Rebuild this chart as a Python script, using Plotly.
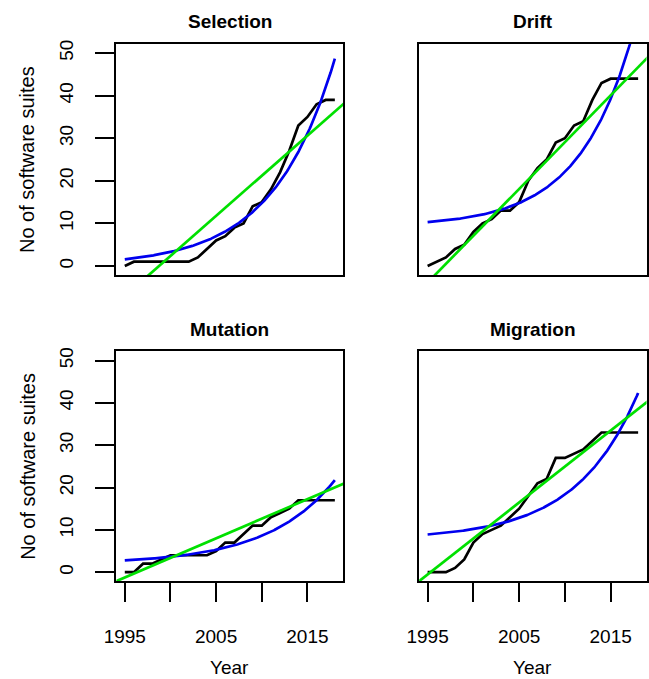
import numpy as np
import plotly.graph_objects as go

# Yearly counts of software suites per evolutionary force
years = list(range(1995, 2019))
selection = [0, 1, 1, 1, 1, 1, 1, 1, 2, 4, 6, 7, 9, 10, 14, 15, 18, 22, 27, 33, 35, 38, 39, 39]
drift = [0, 1, 2, 4, 5, 8, 10, 11, 13, 13, 15, 20, 23, 25, 29, 30, 33, 34, 39, 43, 44, 44, 44, 44]
mutation = [0, 0, 2, 2, 3, 4, 4, 4, 4, 4, 5, 7, 7, 9, 11, 11, 13, 14, 15, 17, 17, 17, 17, 17]
migration = [0, 0, 0, 1, 3, 7, 9, 10, 11, 13, 15, 18, 21, 22, 27, 27, 28, 29, 31, 33, 33, 33, 33, 33]

panel_titles = ["Selection", "Drift", "Mutation", "Migration"]
panel_series = [selection, drift, mutation, migration]

# Linear trend: value at 1995 and slope per year
lin_at_1995 = [-7.08, -3.9, -1.26, -0.54]
lin_slope = [1.885, 2.2, 0.926, 1.70]

# Exponential trend: a + b * exp(c * (year - 1995))
exp_a = [0.0, 9.3, 1.94, 7.75]
exp_b = [1.56, 1.0, 0.856, 1.15]
exp_c = [0.1496, 0.170, 0.1366, 0.148]

x_tickvals = [1995, 2000, 2005, 2010, 2015]
x_ticktext = ["1995", "", "2005", "", "2015"]
y_tickvals = [0, 10, 20, 30, 40, 50]

W, H = 649, 679
FONT = "Liberation Sans, Arial, Helvetica, sans-serif"

x_range = [1994.08, 2018.92]
y_range = [-2.1, 52.2]

# panel boxes in pixels: (left, right, top, bottom)
boxes = [
    (105.5, 337.0, 40.0, 272.5),
    (414.5, 646.5, 40.0, 272.5),
    (105.5, 337.0, 349.3, 580.5),
    (414.5, 646.5, 349.3, 580.5),
]

fig = go.Figure()
layout = dict(
    width=W, height=H,
    margin=dict(l=0, r=0, t=0, b=0),
    paper_bgcolor="white", plot_bgcolor="white",
    showlegend=False,
    font=dict(family=FONT, size=19, color="black"),
)

annotations = []
for i in range(4):
    n = "" if i == 0 else str(i + 1)
    xa, ya = "x" + n, "y" + n
    left, right, top, bottom = boxes[i]
    show_x = i >= 2
    show_y = i % 2 == 0

    layout["xaxis" + n] = dict(
        domain=[left / W, right / W], range=x_range, anchor=ya,
        showgrid=False, zeroline=False,
        showline=True, mirror=True, linecolor="black", linewidth=2.4,
        ticks="outside" if show_x else "", ticklen=19, tickwidth=2.2, tickcolor="black",
        tickvals=x_tickvals, ticktext=x_ticktext, showticklabels=show_x,
        ticklabelstandoff=18,
        tickfont=dict(family=FONT, size=19, color="black"),
    )
    layout["yaxis" + n] = dict(
        domain=[1 - bottom / H, 1 - top / H], range=y_range, anchor=xa,
        showgrid=False, zeroline=False,
        showline=True, mirror=True, linecolor="black", linewidth=2.4,
        ticks="outside" if show_y else "", ticklen=19, tickwidth=2.2, tickcolor="black",
        tickvals=y_tickvals, showticklabels=show_y, tickangle=-90,
        ticklabelstandoff=15,
        tickfont=dict(family=FONT, size=19, color="black"),
    )

    values = panel_series[i]
    # observed counts
    fig.add_trace(go.Scatter(x=years, y=values, mode="lines",
                             line=dict(color="black", width=2.7),
                             xaxis=xa, yaxis=ya, hoverinfo="skip"))
    # exponential trend over the observed years
    t = np.linspace(years[0], years[-1], 300)
    ey = exp_a[i] + exp_b[i] * np.exp(exp_c[i] * (t - 1995))
    fig.add_trace(go.Scatter(x=t, y=ey, mode="lines",
                             line=dict(color="#0000ee", width=2.7),
                             xaxis=xa, yaxis=ya, hoverinfo="skip"))
    # linear trend across the whole panel
    lx = np.array([x_range[0] - 5, x_range[1] + 5])
    ly = lin_at_1995[i] + lin_slope[i] * (lx - 1995)
    fig.add_trace(go.Scatter(x=lx, y=ly, mode="lines",
                             line=dict(color="#00e000", width=2.7),
                             xaxis=xa, yaxis=ya, hoverinfo="skip"))

    cx = (left + right) / 2 / W
    annotations.append(dict(
        text="<b>" + panel_titles[i] + "</b>", x=cx, y=1 - (top - 22) / H,
        xref="paper", yref="paper", xanchor="center", yanchor="middle",
        showarrow=False, font=dict(family=FONT, size=19, color="black")))
    if show_y:
        annotations.append(dict(
            text="No of software suites", x=15 / W, y=1 - (top + bottom) / 2 / H,
            xref="paper", yref="paper", xanchor="center", yanchor="middle",
            textangle=-90, showarrow=False,
            font=dict(family=FONT, size=20, color="black")))
    if show_x:
        annotations.append(dict(
            text="Year", x=cx, y=1 - 667 / H,
            xref="paper", yref="paper", xanchor="center", yanchor="middle",
            showarrow=False, font=dict(family=FONT, size=19, color="black")))

layout["annotations"] = annotations
fig.update_layout(**layout)
fig.write_html("out.html")
